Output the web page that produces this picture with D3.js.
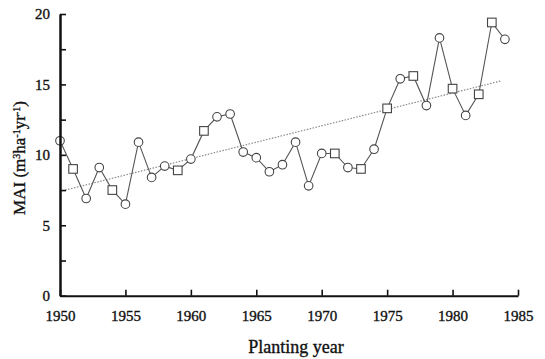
<!DOCTYPE html>
<html>
<head>
<meta charset="utf-8">
<script src="https://cdn.jsdelivr.net/npm/d3@7"></script>
<style>
  body { margin: 0; background: #fff; }
  svg text { font-family: "Liberation Serif", "Times New Roman", serif; fill: #111; stroke: #111; stroke-width: 0.35px; }
</style>
</head>
<body>
<div id="chart"></div>
<script>
// planting year, MAI and marker shape (c = circle, s = square)
var years = [1950, 1951, 1952, 1953, 1954, 1955, 1956, 1957, 1958, 1959,
             1960, 1961, 1962, 1963, 1964, 1965, 1966, 1967, 1968, 1969,
             1970, 1971, 1972, 1973, 1974, 1975, 1976, 1977, 1978, 1979,
             1980, 1981, 1982, 1983, 1984];
var mai = [11.0, 9.0, 6.9, 9.1, 7.5, 6.5, 10.9, 8.4, 9.2, 8.9,
           9.7, 11.7, 12.7, 12.9, 10.2, 9.8, 8.8, 9.3, 10.9, 7.8,
           10.1, 10.1, 9.1, 9.0, 10.4, 13.3, 15.4, 15.6, 13.5, 18.3,
           14.7, 12.8, 14.3, 19.4, 18.2];
var shapes = ["c", "s", "c", "c", "s", "c", "c", "c", "c", "s",
              "c", "s", "c", "c", "c", "c", "c", "c", "c", "c",
              "c", "s", "c", "s", "c", "s", "c", "s", "c", "c",
              "s", "c", "s", "s", "c"];
// dotted regression line (start and end)
var trendYears = [1950.4, 1983.7];
var trendValues = [7.5, 15.25];

var xTicks = [1950, 1955, 1960, 1965, 1970, 1975, 1980, 1985];
var yTicks = [0, 5, 10, 15, 20];
var yMinorTicks = [2.5, 7.5, 12.5, 17.5];

var width = 545, height = 359;
var svg = d3.select("#chart").append("svg")
    .attr("width", width)
    .attr("height", height);

var x = d3.scaleLinear().domain([1950, 1985]).range([60, 518]);
var y = d3.scaleLinear().domain([0, 20]).range([295.7, 14]);

var data = years.map(function(d, i) {
  return { year: d, v: mai[i], shape: shapes[i] };
});

// trend line
svg.append("line")
    .attr("x1", x(trendYears[0])).attr("y1", y(trendValues[0]))
    .attr("x2", x(trendYears[1])).attr("y2", y(trendValues[1]))
    .attr("stroke", "#888")
    .attr("stroke-width", 1.2)
    .attr("stroke-dasharray", "1.5,1.5");

// series line
var line = d3.line()
    .x(function(d) { return x(d.year); })
    .y(function(d) { return y(d.v); });

svg.append("path")
    .datum(data)
    .attr("d", line)
    .attr("fill", "none")
    .attr("stroke", "#555")
    .attr("stroke-width", 1.1);

// markers
var r = 4.3;
svg.selectAll(".pt-c")
    .data(data.filter(function(d) { return d.shape == "c"; }))
    .enter().append("circle")
    .attr("cx", function(d) { return x(d.year); })
    .attr("cy", function(d) { return y(d.v); })
    .attr("r", r)
    .attr("fill", "#fff")
    .attr("stroke", "#444")
    .attr("stroke-width", 1.1);

svg.selectAll(".pt-s")
    .data(data.filter(function(d) { return d.shape == "s"; }))
    .enter().append("rect")
    .attr("x", function(d) { return x(d.year) - r; })
    .attr("y", function(d) { return y(d.v) - r; })
    .attr("width", r * 2)
    .attr("height", r * 2)
    .attr("fill", "#fff")
    .attr("stroke", "#444")
    .attr("stroke-width", 1.1);

// axes (ticks point inward)
var xAxis = svg.append("g")
    .attr("transform", "translate(0," + y(0) + ")")
    .call(d3.axisBottom(x)
      .tickValues(xTicks)
      .tickFormat(d3.format("d"))
      .tickSizeInner(-6)
      .tickSizeOuter(0)
      .tickPadding(15));

var yAxisMinor = svg.append("g")
    .attr("transform", "translate(" + x(1950) + ",0)")
    .call(d3.axisLeft(y)
      .tickValues(yMinorTicks)
      .tickFormat("")
      .tickSizeInner(-6)
      .tickSizeOuter(0));

var yAxis = svg.append("g")
    .attr("transform", "translate(" + x(1950) + ",0)")
    .call(d3.axisLeft(y)
      .tickValues(yTicks)
      .tickSizeInner(-6)
      .tickSizeOuter(0)
      .tickPadding(10));

[xAxis, yAxis, yAxisMinor].forEach(function(g) {
  g.select(".domain").attr("stroke", "#111").attr("stroke-width", 2);
  g.selectAll(".tick line").attr("stroke", "#111").attr("stroke-width", 1.6);
  g.selectAll(".tick text")
    .style("font-family", "Liberation Serif, serif")
    .style("font-size", "15px")
    .attr("fill", "#111");
});

// axis titles
svg.append("text")
    .attr("x", 296)
    .attr("y", 353)
    .attr("text-anchor", "middle")
    .style("font-size", "18px")
    .text("Planting year");

var yt = svg.append("text")
    .attr("transform", "translate(25,158) rotate(-90)")
    .attr("text-anchor", "middle")
    .style("font-size", "17px");
yt.append("tspan").text("MAI (m");
yt.append("tspan").attr("baseline-shift", "super").style("font-size", "10px").text("3");
yt.append("tspan").text("ha");
yt.append("tspan").attr("baseline-shift", "super").style("font-size", "10px").text("-1");
yt.append("tspan").text("yr");
yt.append("tspan").attr("baseline-shift", "super").style("font-size", "10px").text("-1");
yt.append("tspan").text(")");
</script>
</body>
</html>
